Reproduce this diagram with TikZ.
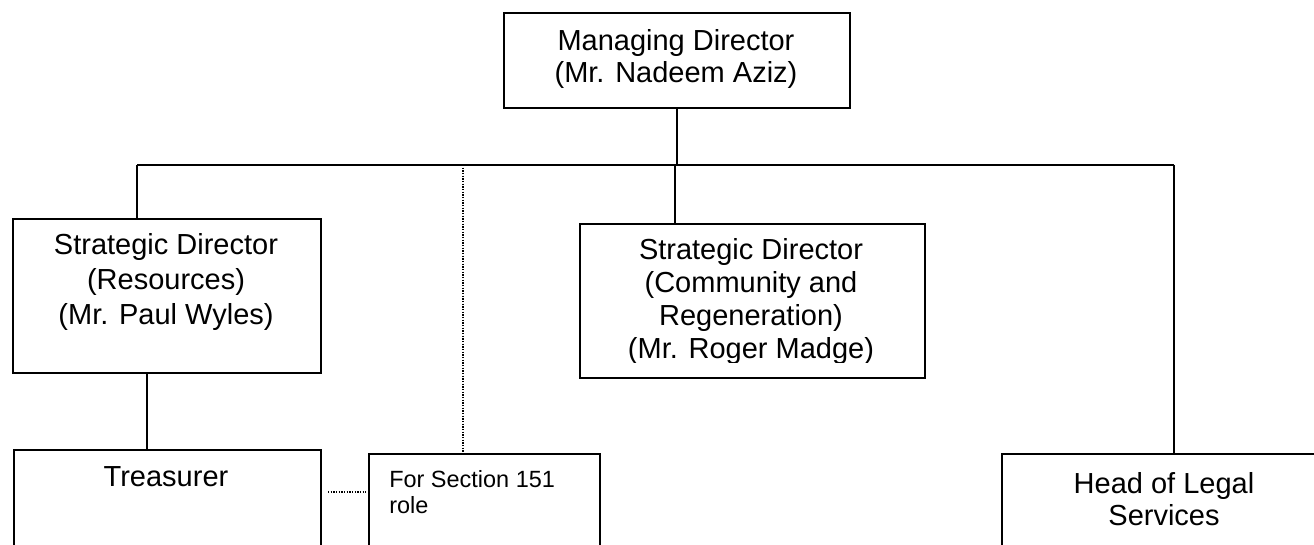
\documentclass[tikz,border=0pt]{standalone}
\usepackage{fontspec}
\setmainfont{Liberation Sans}
\begin{document}
\begin{tikzpicture}[x=0.75pt,y=-0.75pt,
  box/.style={draw, line width=1.4pt, rectangle, inner sep=0pt, anchor=north west},
  conn/.style={line width=1.4pt},
  dotline/.style={line width=1pt, dash pattern=on 1pt off 1pt},
  big/.style={font=\fontsize{21.75pt}{25pt}\selectfont, align=center, inner sep=0pt},
  small/.style={font=\fontsize{17.6pt}{19.5pt}\selectfont, align=left, inner sep=0pt}]
\useasboundingbox (0,0) rectangle (1314,545);
\clip (0,0) rectangle (1314,545);
\fill[white] (0,0) rectangle (1314,545);
% boxes
\node[box, minimum width=346*0.75pt, minimum height=95*0.75pt] (md) at (503,12) {};
\node[box, minimum width=308*0.75pt, minimum height=154*0.75pt] (sdr) at (12,218) {};
\node[box, minimum width=345*0.75pt, minimum height=154*0.75pt] (sdc) at (579,223) {};
\node[box, minimum width=307*0.75pt, minimum height=130*0.75pt] (tre) at (13,449) {};
\node[box, minimum width=231*0.75pt, minimum height=130*0.75pt] (sec) at (368,453) {};
\node[box, minimum width=330*0.75pt, minimum height=130*0.75pt] (leg) at (1001,453) {};
% texts
\node[big, font=\fontsize{21.75pt}{24pt}\selectfont] (mdt) at (676,59) {Managing Director\\(Mr. Nadeem Aziz)};
\node[big, font=\fontsize{21.75pt}{26.25pt}\selectfont] (sdrt) at (166,282) {Strategic Director\\(Resources)\\(Mr. Paul Wyles)};
\begin{scope}
\clip (579,223) rectangle (924,363);
\node[big, font=\fontsize{21.75pt}{24.75pt}\selectfont] (sdct) at (751,302) {Strategic Director\\(Community and\\Regeneration)\\(Mr. Roger Madge)};
\end{scope}
\node[big] (tret) at (166,477) {Treasurer};
\node[small, anchor=west] (sect) at (389,492) {For Section 151\\role};
\node[big, font=\fontsize{21.75pt}{24pt}\selectfont] (legt) at (1164,499) {Head of Legal\\Services};
% connectors
\coordinate (busL) at (137,165);
\coordinate (busR) at (1174,165);
\coordinate (busC) at (675,165);
\coordinate (tx) at (147,372);
\coordinate (dv) at (463,165);
\coordinate (h1) at (328,492);
\coordinate (h2) at (366,492);
\draw[conn] (busL) -- (busR);
\draw[conn] (md.south) -- (md.south |- busL);
\draw[conn] (busL) -- (busL |- sdr.north);
\draw[conn] (busC) -- (busC |- sdc.north);
\draw[conn] (busR) -- (busR |- leg.north);
\draw[conn] (tx) -- (tx |- tre.north);
\draw[dotline] (dv) -- (dv |- sec.north);
\draw[dotline] (h1) -- (h2);
\end{tikzpicture}
\end{document}
